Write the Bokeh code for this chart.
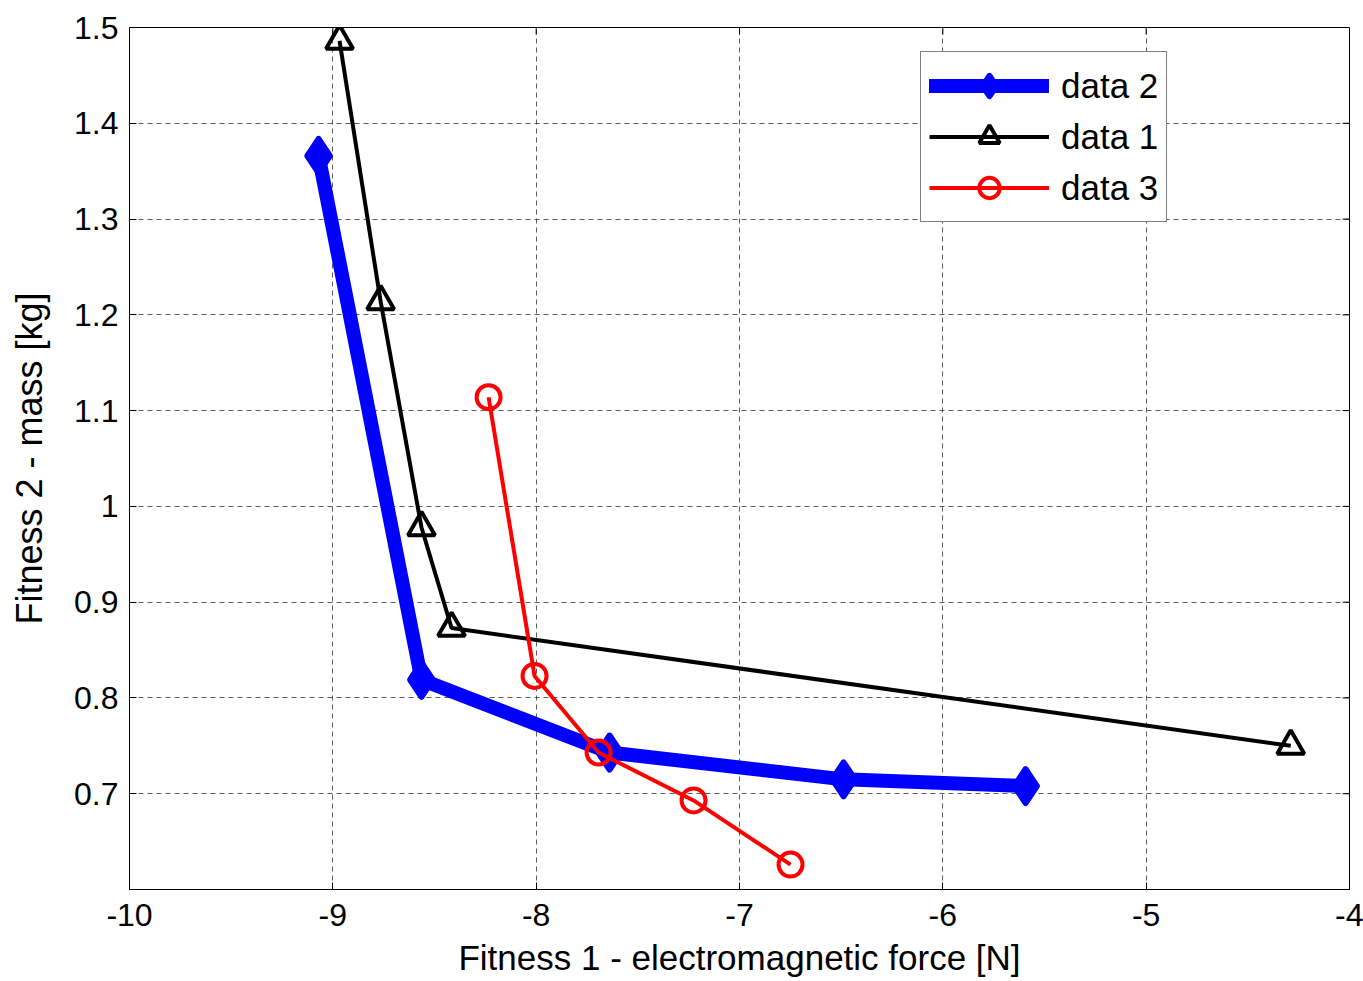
import math
from bokeh.plotting import figure
from bokeh.models import Range1d, FixedTicker, Legend, LegendItem
from bokeh.embed import file_html
from bokeh.resources import INLINE

# Data
data2_x = [-9.07, -8.564, -7.639, -6.488, -5.593]
data2_y = [1.366, 0.819, 0.743, 0.715, 0.708]
data1_x = [-8.967, -8.765, -8.564, -8.416, -4.289]
data1_y = [1.486, 1.214, 0.978, 0.873, 0.750]
data3_x = [-8.234, -8.008, -7.693, -7.226, -6.749]
data3_y = [1.114, 0.823, 0.743, 0.693, 0.626]

x_ticks = [-10, -9, -8, -7, -6, -5, -4]
x_tick_labels = ["-10", "-9", "-8", "-7", "-6", "-5", "-4"]
y_ticks = [0.7, 0.8, 0.9, 1.0, 1.1, 1.2, 1.3, 1.4, 1.5]
y_tick_labels = ["0.7", "0.8", "0.9", "1", "1.1", "1.2", "1.3", "1.4", "1.5"]
grid_y = [0.6] + y_ticks
x_min, x_max = -10, -4
y_min, y_max = 0.6, 1.5

FONT = "Liberation Sans"

p = figure(width=1363, height=981, output_backend="svg", toolbar_location=None,
           x_range=Range1d(x_min, x_max), y_range=Range1d(y_min, y_max),
           min_border_left=129, min_border_right=14, min_border_top=27,
           min_border_bottom=92, x_axis_label="Fitness 1 - electromagnetic force [N]",
           y_axis_label="Fitness 2 - mass [kg]")
p.background_fill_color = "white"
p.border_fill_color = "white"
p.outline_line_color = "black"
p.outline_line_width = 1

for ax in [p.xaxis[0], p.yaxis[0]]:
    ax.major_tick_in = 7
    ax.major_tick_out = 0
    ax.minor_tick_line_color = None
    ax.axis_line_color = "black"
    ax.major_tick_line_color = "black"
    ax.major_label_text_font = FONT
    ax.major_label_text_font_size = "32px"
    ax.major_label_text_color = "black"
    ax.axis_label_text_font = FONT
    ax.axis_label_text_font_size = "35px"
    ax.axis_label_text_font_style = "normal"
    ax.axis_label_text_color = "black"

p.xaxis[0].ticker = FixedTicker(ticks=x_ticks)
p.xaxis[0].major_label_overrides = {t: l for t, l in zip(x_ticks, x_tick_labels)}
p.xaxis[0].major_label_standoff = 14
p.xaxis[0].axis_label_standoff = 9
p.yaxis[0].ticker = FixedTicker(ticks=y_ticks)
p.yaxis[0].major_label_overrides = {t: l for t, l in zip(y_ticks, y_tick_labels)}
p.yaxis[0].major_label_standoff = 11
p.yaxis[0].axis_label_standoff = 21
p.yaxis[0].axis_label_text_font_size = "36px"

# ticks on top and right edges (inward)
p.ray(x=x_ticks, y=[y_max] * len(x_ticks), length=7, length_units="screen",
      angle=-math.pi / 2, line_color="black", line_width=1)
p.ray(x=[x_max] * len(y_ticks), y=y_ticks, length=7, length_units="screen",
      angle=math.pi, line_color="black", line_width=1)

p.xgrid.ticker = FixedTicker(ticks=x_ticks)
p.ygrid.ticker = FixedTicker(ticks=grid_y)
for g in [p.xgrid[0], p.ygrid[0]]:
    g.grid_line_color = "#333333"
    g.grid_line_dash = "5 4"
    g.grid_line_width = 1
    g.grid_line_alpha = 0.8

# data 2 (blue thick)
l2 = p.line(data2_x, data2_y, line_color="#0000ff", line_width=14, line_join="round", line_cap="round")
m2 = p.scatter(data2_x, data2_y, marker="diamond", size=34, fill_color="#0000ff",
               line_color="#0000ff", line_width=6, line_join="round")
# data 1 (black triangles)
l1 = p.line(data1_x, data1_y, line_color="black", line_width=4)
m1 = p.scatter(data1_x, data1_y, marker="triangle", size=27, fill_color=None,
               line_color="black", line_width=4)
# data 3 (red circles)
l3 = p.line(data3_x, data3_y, line_color="#ff0000", line_width=4)
m3 = p.scatter(data3_x, data3_y, marker="circle", size=24, fill_color=None,
               line_color="#ff0000", line_width=4)

legend = Legend(items=[
    LegendItem(label="data 2", renderers=[l2, m2]),
    LegendItem(label="data 1", renderers=[l1, m1]),
    LegendItem(label="data 3", renderers=[l3, m3]),
], location=(791, 667))
legend.label_text_font = FONT
legend.label_text_font_size = "35px"
legend.label_text_color = "black"
legend.border_line_color = "black"
legend.border_line_width = 1
legend.background_fill_alpha = 1
legend.glyph_width = 120
legend.glyph_height = 51
legend.spacing = 0
legend.padding = 8
legend.margin = 0
legend.label_standoff = 12
legend.label_height = 51
p.add_layout(legend, "center")

open("out.html", "w").write(file_html(p, INLINE))
